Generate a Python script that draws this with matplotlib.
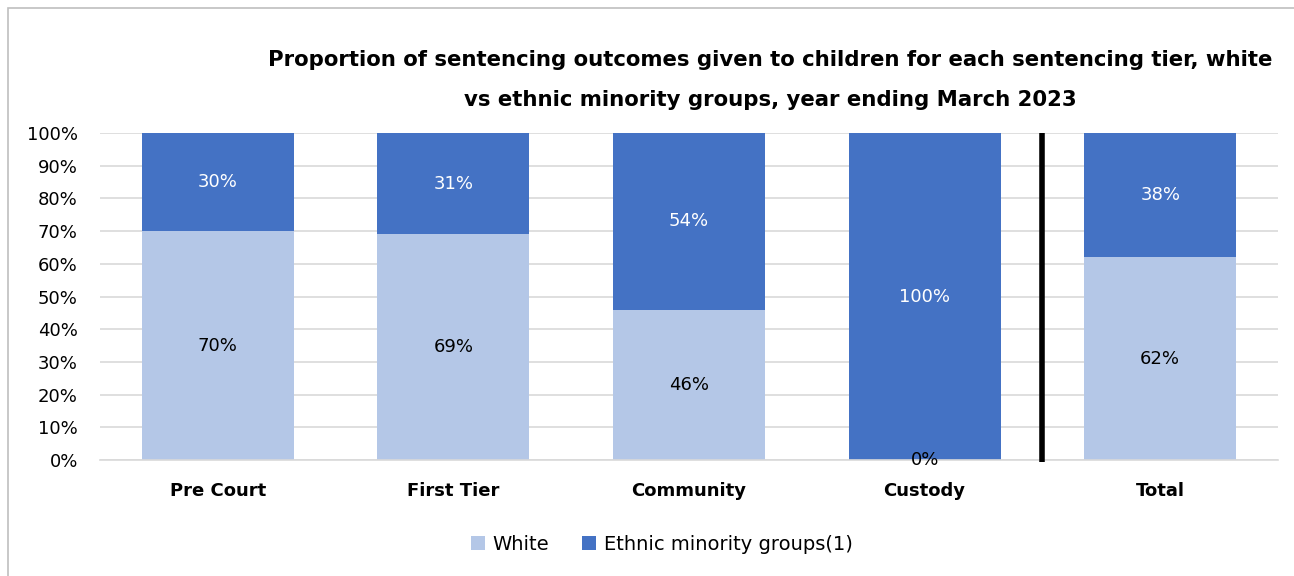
import matplotlib
matplotlib.use("Agg")
import matplotlib.pyplot as plt
from matplotlib.patches import Rectangle
from matplotlib.ticker import PercentFormatter

plt.rcParams['font.family'] = ['DejaVu Sans']

# data
categories = ["Pre Court", "First Tier", "Community", "Custody", "Total"]
white = [0.70, 0.69, 0.46, 0.00, 0.62]
ethnic = [0.30, 0.31, 0.54, 1.00, 0.38]
series_names = ["White", "Ethnic minority groups(1)"]

light_blue = "#B4C7E7"
dark_blue = "#4472C4"

fig = plt.figure(figsize=(12.94, 5.76), dpi=100)
ax = fig.add_axes([100/1294, 1 - 460/576, 1178/1294, 327/576])

x = range(len(categories))
b1 = ax.bar(x, white, width=0.645, color=light_blue, label=series_names[0], zorder=2)
b2 = ax.bar(x, ethnic, width=0.645, bottom=white, color=dark_blue, label=series_names[1], zorder=2)

for i in x:
    ax.text(i, white[i] / 2, f"{white[i]:.0%}", ha="center", va="center",
            fontsize=13, color="black", zorder=3)
    ax.text(i, white[i] + ethnic[i] / 2, f"{ethnic[i]:.0%}", ha="center", va="center",
            fontsize=13, color="white", zorder=3)

# separator before the total column
ax.plot([3.5, 3.5], [-0.005, 1.0], color="black", lw=4, zorder=4, clip_on=False,
        solid_capstyle="butt")

ax.set_xlim(-0.5, 4.5)
ax.set_ylim(0, 1)
ax.set_yticks([i / 10 for i in range(11)])
ax.yaxis.set_major_formatter(PercentFormatter(1.0, decimals=0))
ax.set_xticks(list(x))
ax.set_xticklabels(categories, fontsize=13, fontweight="bold")
ax.tick_params(axis="y", labelsize=13, length=0, pad=16)
ax.tick_params(axis="x", length=0, pad=16)
ax.grid(axis="y", color="#D9D9D9", lw=1.2, zorder=0)
for s in ["top", "right", "left"]:
    ax.spines[s].set_visible(False)
ax.spines["bottom"].set_color("#D9D9D9")
ax.spines["bottom"].set_linewidth(1.2)

title_lines = ["Proportion of sentencing outcomes given to children for each sentencing tier, white",
               "vs ethnic minority groups, year ending March 2023"]
fig.text(770/1294, 1 - 60/576, title_lines[0],
         ha="center", va="center", fontsize=15.3, fontweight="bold")
fig.text(770/1294, 1 - 100/576, title_lines[1],
         ha="center", va="center", fontsize=15.3, fontweight="bold")

fig.legend(handles=[b1, b2], loc="center", bbox_to_anchor=(662/1294, 1 - 544/576),
           ncol=2, frameon=False, fontsize=14, handlelength=0.7, handleheight=0.7,
           columnspacing=1.7, handletextpad=0.4)

fig.patches.append(Rectangle((8/1294, -0.1), 1.2, 1 - 8/576 + 0.1, transform=fig.transFigure,
                             fill=False, edgecolor="#BFBFBF", lw=1.2))

fig.savefig("out.png", dpi=100)
